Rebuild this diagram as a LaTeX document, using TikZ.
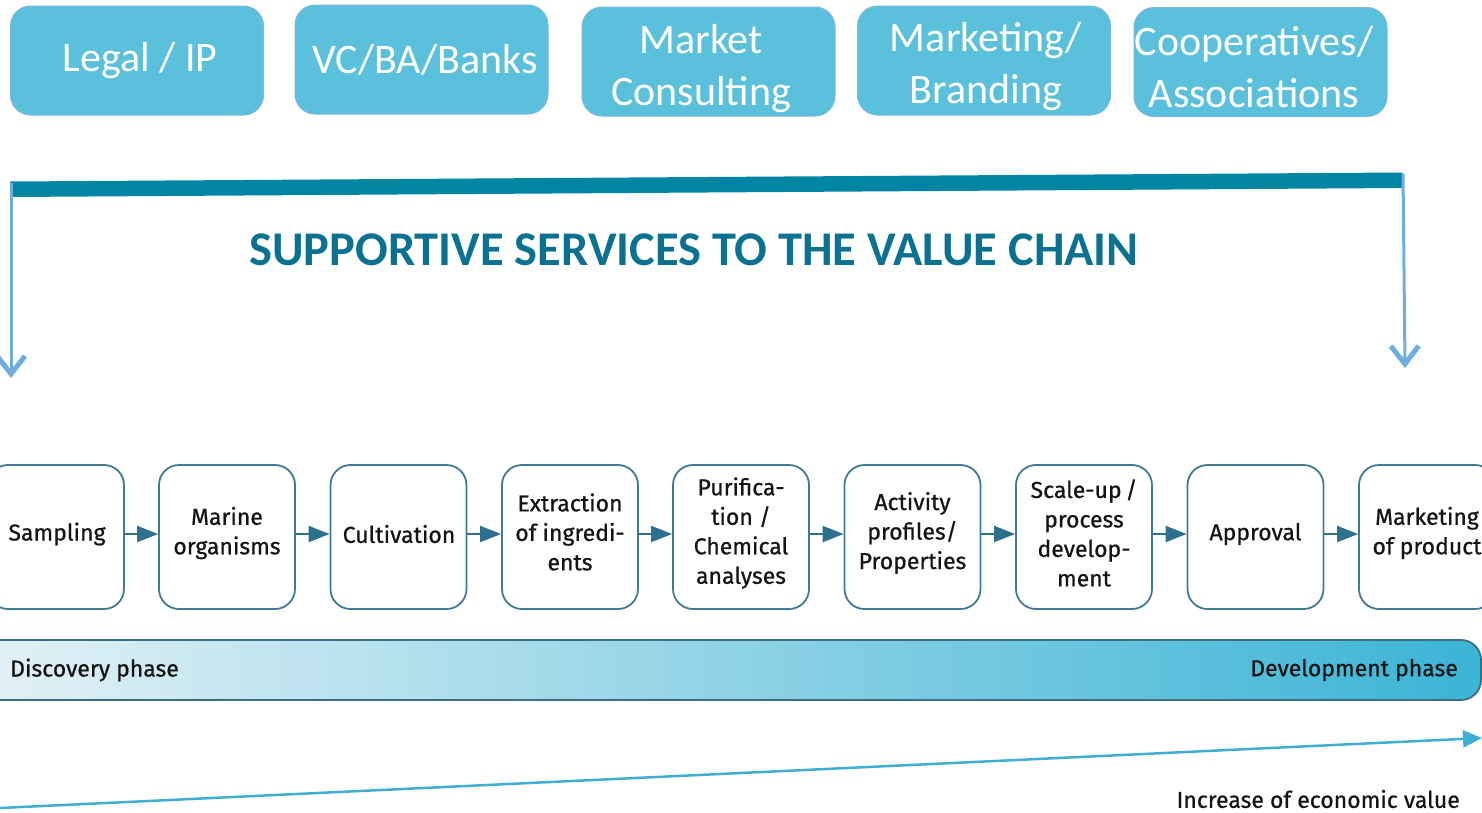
\documentclass[tikz,border=0pt]{standalone}
\usepackage{fontspec}
\setmainfont{Carlito}
\newfontfamily\chainfont[FakeBold=0.7]{Fira Sans}
\usetikzlibrary{arrows.meta}
\definecolor{topfill}{HTML}{5BC0DB}
\definecolor{topedge}{HTML}{7DB6E0}
\definecolor{barcol}{HTML}{0086A3}
\definecolor{titlecol}{HTML}{0A7290}
\definecolor{downcol}{HTML}{6DAEDF}
\definecolor{chainedge}{HTML}{3F7A96}
\definecolor{chainarrow}{HTML}{2C6F8E}
\definecolor{phaseedge}{HTML}{3D6E88}
\definecolor{phaseL}{HTML}{E3F1F6}
\definecolor{phaseR}{HTML}{3BB4D5}
\definecolor{econcol}{HTML}{3FAED3}
\definecolor{txtdark}{HTML}{141414}
\tikzset{
  topbox/.style={draw=topedge, line width=1pt, fill=topfill, rounded corners=20pt,
    minimum width=253pt, minimum height=109pt, inner sep=0pt},
  toptext/.style={text=white, inner sep=0pt,
    font=\fontsize{42}{52}\selectfont, align=center},
  chainbox/.style={draw=chainedge, line width=1.8pt, fill=white, rounded corners=20pt,
    minimum width=136pt, minimum height=144pt, inner sep=0pt},
  chaintext/.style={text=txtdark, inner sep=0pt,
    font=\chainfont\fontsize{23}{29.5}\selectfont, align=center},
  chainlink/.style={draw=chainarrow, line width=2pt, -{Triangle[length=21pt,width=16pt]}},
  downarrow/.style={draw=downcol, line width=3pt, -{Straight Barb[length=18pt,width=28pt,line width=5pt]}},
  phasetext/.style={text=txtdark, font=\chainfont\fontsize{23}{26}\selectfont, inner sep=0pt},
}
\begin{document}
\begin{tikzpicture}[x=1pt,y=-1pt]
\useasboundingbox (0,0) rectangle (1482,812);
% top service boxes
\node[topbox] (legal) at (137,60.5) {};
\node[topbox] (vc) at (421.5,59.5) {};
\node[topbox] (mc) at (708.5,61.5) {};
\node[topbox] (mb) at (984,60.5) {};
\node[topbox] (coop) at (1260.5,62) {};
\node[toptext] (legalt) at (140,61) {Legal / IP};
\node[toptext] (vct) at (425,60) {VC/BA/Banks};
\node[toptext] (mct) at (701,69) {Market\\Consulting};
\node[toptext] (mbt) at (986,67) {Marketing/\\Branding};
\node[toptext] (coopt) at (1254,67) {Cooperatives/\\Associations};
% supportive bar
\fill[barcol] (10,181.5) -- (1402.5,172.5) -- (1402.5,188) -- (10,197) -- cycle;
\coordinate (bl) at (11,183);
\coordinate (br) at (1403,174);
\coordinate (blend) at (11,378);
\coordinate (brend) at (1405,368);
\draw[downarrow] (bl) -- (blend);
\draw[downarrow] (br) -- (brend);
\node[text=titlecol, font=\bfseries\fontsize{48.4}{52}\selectfont, inner sep=0pt] (title) at (694,250) {SUPPORTIVE SERVICES TO THE VALUE CHAIN};
% value chain
\node[chainbox] (c1) at (56,537) {};
\node[chainbox] (c2) at (227,537) {};
\node[chainbox] (c3) at (398.5,537) {};
\node[chainbox] (c4) at (570,537) {};
\node[chainbox] (c5) at (741,537) {};
\node[chainbox] (c6) at (912.5,537) {};
\node[chainbox] (c7) at (1084,537) {};
\node[chainbox] (c8) at (1255.5,537) {};
\node[chainbox] (c9) at (1427,537) {};
\node[chaintext] (t1) at (57,534) {Sampling};
\node[chaintext] (t2) at (227,533) {Marine\\organisms};
\node[chaintext] (t3) at (399,534) {Cultivation};
\node[chaintext] (t4) at (570,532) {Extraction\\of ingredi-\\ents};
\node[chaintext] (t5) at (741,533) {Purifica-\\tion /\\Chemical\\analyses};
\node[chaintext] (t6) at (912.5,533) {Activity\\profiles/\\Properties};
\node[chaintext] (t7) at (1084,533) {Scale-up\,/\\process\\develop-\\ment};
\node[chaintext] (t8) at (1255.5,534) {Approval};
\node[chaintext] (t9) at (1427,533) {Marketing\\of product};
\foreach \a/\b in {c1/c2,c2/c3,c3/c4,c4/c5,c5/c6,c6/c7,c7/c8,c8/c9}
  \draw[chainlink] ([yshift=3pt]\a.east) -- ([yshift=3pt]\b.west);
% phase bar
\shade[left color=phaseL, right color=phaseR, draw=phaseedge, line width=1.8pt, rounded corners=20pt]
  (-20,640) rectangle (1481,700);
\node[phasetext, anchor=west] (disc) at (10,670) {Discovery phase};
\node[phasetext, anchor=east] (dev) at (1458,670) {Development phase};
% economic value arrow
\coordinate (e0) at (0,808);
\coordinate (e1) at (1482,738);
\draw[econcol, line width=2.5pt, -{Triangle[length=19pt,width=17pt]}] (e0) -- (e1);
\node[phasetext, anchor=east] (econ) at (1460,799) {Increase of economic value};
\end{tikzpicture}
\end{document}
